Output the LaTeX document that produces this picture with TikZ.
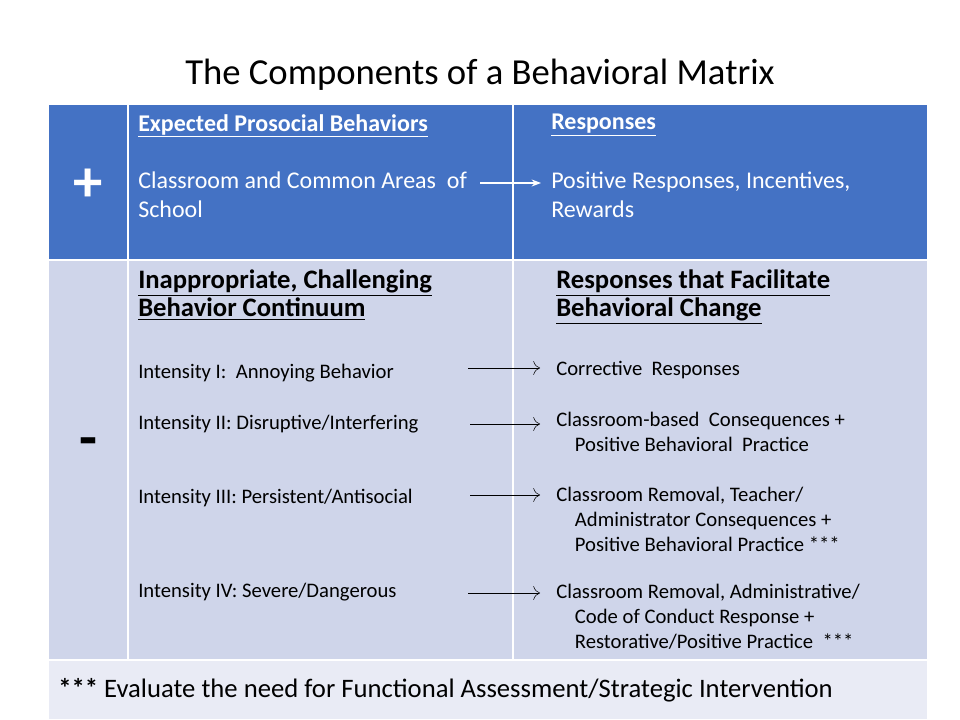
\documentclass[tikz,border=0pt]{standalone}
\usepackage{fontspec}
\setmainfont{Carlito}
\usetikzlibrary{positioning, calc, arrows.meta}
\definecolor{hdrblue}{HTML}{4472C4}
\definecolor{rowlight}{HTML}{CFD5EA}
\definecolor{footlight}{HTML}{E9EBF5}
\newcommand{\fs}[2][1.2]{\fontsize{#2}{\fpeval{#2*#1}}\selectfont}
\begin{document}
\begin{tikzpicture}[
    x=0.75pt, y=-0.75pt,
    cell/.style={draw=white, line width=1pt},
    toptext/.style={anchor=north west, inner sep=0pt, text=white, font=\fs{18}, align=left},
    head/.style={anchor=north west, inner sep=0pt, font=\fs[1.05]{20}\bfseries, align=left},
    item/.style={anchor=north west, inner sep=0pt, font=\fs{15.5}, align=left},
    arrow/.style={-{To[length=5pt]}, thin}
]
\useasboundingbox (0,0) rectangle (960,720);

% Title
\node[font=\fs{27.5}] (title) at (480,75) {The Components of a Behavioral Matrix};

% Table cells
\fill[hdrblue] (48,104) rectangle (928,260);
\fill[rowlight] (48,260) rectangle (928,660);
\fill[footlight] (48,660) rectangle (928,720);
\draw[cell] (48,104) rectangle (928,720);
\draw[cell] (48,260) -- (928,260);
\draw[cell] (48,660) -- (928,660);
\draw[cell] (128,104) -- (128,660);
\draw[cell] (513,104) -- (513,660);

% Signs
\node[text=white, font=\fs{44}\bfseries] (plus) at (88,185) {+};
\node[font=\fs{44}\bfseries] (minus) at (88,448) {-};

% Top row
\node[toptext] (exphead) at (138,114) {\textbf{\underline{Expected Prosocial Behaviors}}};
\node[toptext] (expbody) at (138,172) {Classroom and Common Areas\ \ of\\School};
\node[toptext] (resphead) at (551,114) {\textbf{\underline{Responses}}};
\node[toptext] (respbody) at (551,172) {Positive Responses, Incentives,\\Rewards};
\coordinate (ta) at (480,183);
\coordinate (tb) at (541,183);
\draw[-{Stealth[length=7pt]}, white, line width=1.2pt] (ta) -- (tb);

% Lower row headers
\node[head] (inhead) at (138,270) {\underline{Inappropriate, Challenging}\\\underline{Behavior Continuum}};
\node[head] (outhead) at (556,270) {\underline{Responses that Facilitate}\\\underline{Behavioral Change}};

% Intensity levels
\node[item] (i1) at (138,364) {Intensity I:\ \ Annoying Behavior};
\node[item] (i2) at (138,415) {Intensity II: Disruptive/Interfering};
\node[item] (i3) at (138,489) {Intensity III: Persistent/Antisocial};
\node[item] (i4) at (138,583) {Intensity IV: Severe/Dangerous};

\node[item] (r1) at (556,361) {Corrective\ \ Responses};
\node[item] (r2) at (556,412) {Classroom-based\ \ Consequences +\\\hspace{14pt}Positive Behavioral\ \ Practice};
\node[item] (r3) at (556,487) {Classroom Removal, Teacher/\\\hspace{14pt}Administrator Consequences +\\\hspace{14pt}Positive Behavioral Practice ***};
\node[item] (r4) at (556,584) {Classroom Removal, Administrative/\\\hspace{14pt}Code of Conduct Response +\\\hspace{14pt}Restorative/Positive Practice\ \ ***};

\coordinate (a1) at (468,368); \coordinate (b1) at (540,368);
\coordinate (a2) at (470,424); \coordinate (b2) at (540,424);
\coordinate (a3) at (470,495); \coordinate (b3) at (540,495);
\coordinate (a4) at (468,593); \coordinate (b4) at (540,593);
\foreach \k in {1,...,4} \draw[arrow] (a\k) -- (b\k);

% Footer
\node[anchor=west, inner sep=0pt, font=\fs{20}] (foot) at (58,690) {\textbf{***} Evaluate the need for Functional Assessment/Strategic Intervention};
\end{tikzpicture}
\end{document}
